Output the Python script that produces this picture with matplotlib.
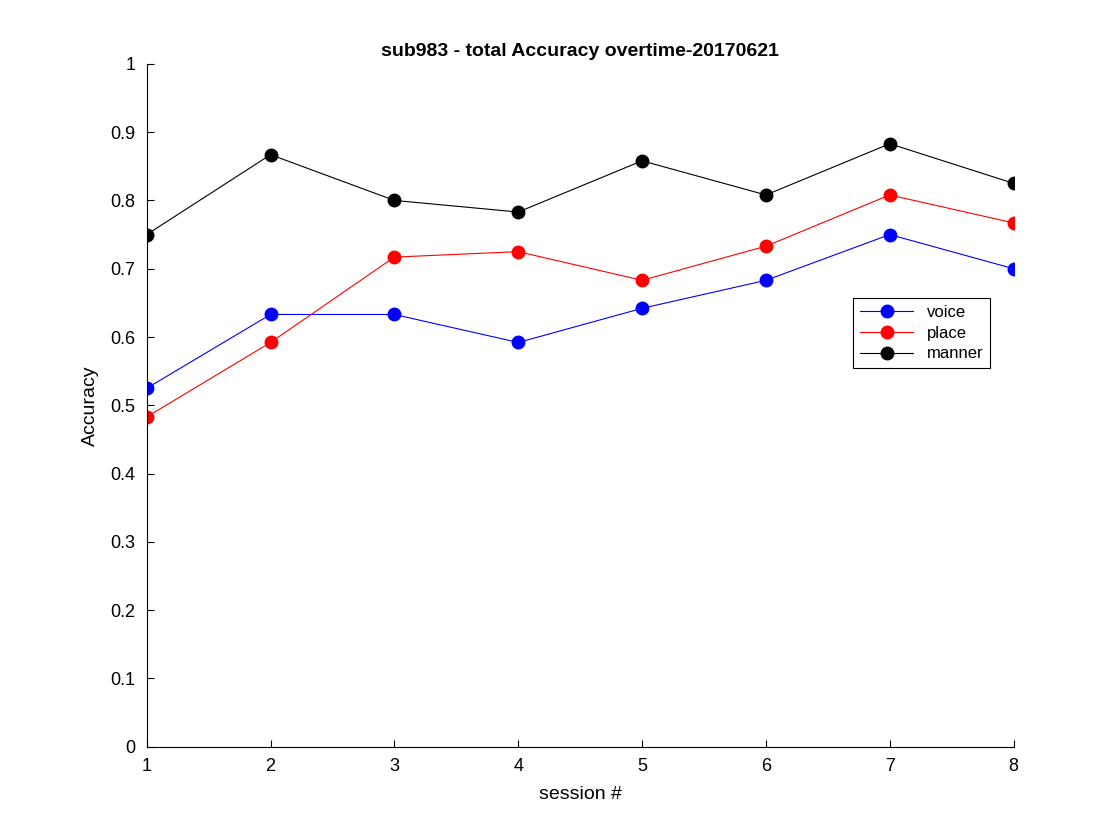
import matplotlib
matplotlib.use("Agg")
import matplotlib.pyplot as plt

plt.rcParams["font.family"] = ["Liberation Sans", "DejaVu Sans"]

sessions = [1, 2, 3, 4, 5, 6, 7, 8]
voice = [0.525, 0.633, 0.633, 0.592, 0.642, 0.683, 0.75, 0.70]
place = [0.483, 0.592, 0.717, 0.725, 0.683, 0.733, 0.808, 0.767]
manner = [0.75, 0.867, 0.80, 0.783, 0.858, 0.808, 0.883, 0.825]

fig = plt.figure(figsize=(11.2, 8.4), dpi=100)
ax = fig.add_axes([0.131, 0.111, 0.774, 0.813])

for vals, col, name in [(voice, "blue", "voice"), (place, "red", "place"), (manner, "black", "manner")]:
    ax.plot(sessions, vals, color=col, marker="o", markersize=9, linewidth=0.8, label=name)

ax.set_xlim(1, 8)
ax.set_ylim(0, 1)
ax.set_xticks(sessions)
ax.set_yticks([i / 10 for i in range(11)])
ax.set_yticklabels(["0", "0.1", "0.2", "0.3", "0.4", "0.5", "0.6", "0.7", "0.8", "0.9", "1"])
ax.spines["top"].set_visible(False)
ax.spines["right"].set_visible(False)
ax.tick_params(direction="in", labelsize=13, length=5, pad=8)
ax.set_xlabel("session #", fontsize=14, labelpad=8)
ax.set_ylabel("Accuracy", fontsize=14, labelpad=8)
ax.set_title("sub983 - total Accuracy overtime-20170621", fontsize=14, fontweight="bold")

leg = ax.legend(loc="upper left", bbox_to_anchor=(0.815, 0.657), fontsize=12,
                handlelength=3.2, labelspacing=0.35,
                fancybox=False, edgecolor="black", framealpha=1, borderaxespad=0)
leg.get_frame().set_linewidth(0.8)

fig.savefig("out.png")
